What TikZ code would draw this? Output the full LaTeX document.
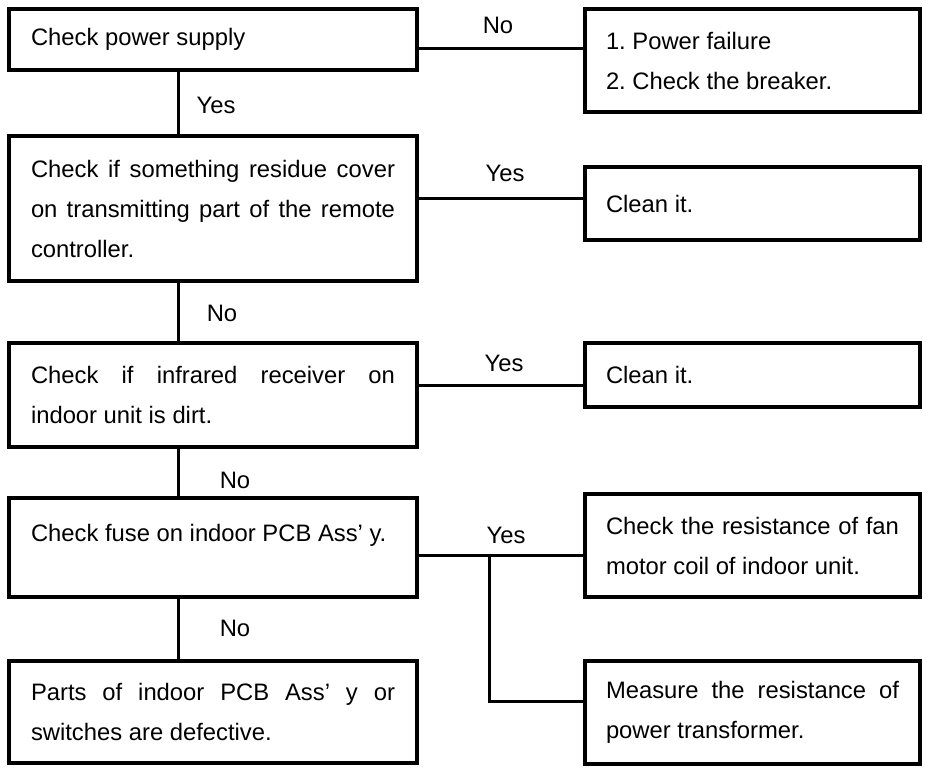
\documentclass[tikz,border=0pt]{standalone}
\usepackage{fontspec}
\setmainfont{Liberation Sans}
\hyphenpenalty=10000
\tolerance=10000
\hbadness=10000
\frenchspacing
\begin{document}
\begin{tikzpicture}[x=1pt,y=-1pt,
    every node/.style={font=\fontsize{23.8}{40}\selectfont},
    leftbox/.style={draw,line width=3.3pt,text width=364pt,align=justify,
      minimum width=408pt,inner sep=0pt},
    rightbox/.style={draw,line width=3.3pt,text width=293pt,align=justify,
      minimum width=335pt,inner sep=0pt},
    link/.style={line width=3pt}]
     \useasboundingbox (0,0) rectangle (926,768);
     \node[leftbox,minimum height=61pt] (b1) at (213,39.5) {Check power supply};
     \node[leftbox,minimum height=145pt] (b2) at (213,208.5)
        {Check if something residue cover on transmitting part of the remote controller.};
     \node[leftbox,minimum height=104pt] (b3) at (213,395)
        {Check if infrared receiver on\linebreak indoor unit is dirt.};
     \node[leftbox,minimum height=99pt,text depth=29pt] (b4) at (213,547.5)
        {Check fuse on indoor PCB Ass’ y.};
     \node[leftbox,minimum height=102pt] (b5) at (213,712)
        {Parts of indoor PCB Ass’ y or switches are defective.};
     \node[rightbox,minimum height=103pt] (r1) at (752.5,60.5)
        {1. Power failure\\2. Check the breaker.};
     \node[rightbox,minimum height=73pt] (r2) at (752.5,203.5) {Clean it.};
     \node[rightbox,minimum height=64pt] (r3) at (752.5,375) {Clean it.};
     \node[rightbox,minimum height=103pt] (r4) at (752.5,545.5)
        {Check the resistance of fan motor coil of indoor unit.};
     \node[rightbox,minimum height=103pt] (r5) at (752.5,712.5)
        {Measure the resistance of power transformer.};
     \coordinate (trunk) at (178,0);
     \coordinate (fork) at (489,555);
     \draw[link]
        (b1.south -| trunk) -- (b2.north -| trunk);
     \draw[link]
        (b2.south -| trunk) -- (b3.north -| trunk);
     \draw[link]
        (b3.south -| trunk) -- (b4.north -| trunk);
     \draw[link]
        (b4.south -| trunk) -- (b5.north -| trunk);
     \draw[link] (b1.east |- 0,49) -- (r1.west |- 0,49);
     \draw[link] (b2.east |- 0,198) -- (r2.west |- 0,198);
     \draw[link] (b3.east |- 0,385) -- (r3.west |- 0,385);
     \draw[link] (b4.east |- fork) -- (r4.west |- fork);
     \draw[link] (fork) |- (r5.west |- 0,701);
     \node(yes0) at (216,105) {Yes};
     \node(no1) at (222,313) {No};
     \node(no2) at (235,480) {No};
     \node(no3) at (235,628) {No};
     \node(no0) at (498,25) {No};
     \node(yes1) at (505,173) {Yes};
     \node(yes2) at (504,363) {Yes};
     \node(yes3) at (506,535) {Yes};
 \end{tikzpicture}
\end{document}
